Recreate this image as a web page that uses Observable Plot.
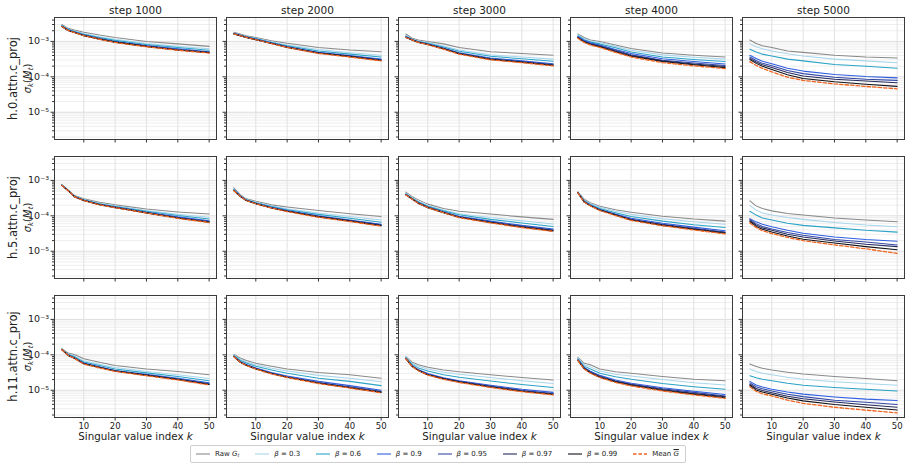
<!DOCTYPE html>
<html><head><meta charset="utf-8">
<script src="https://cdn.jsdelivr.net/npm/d3@7"></script>
<script src="https://cdn.jsdelivr.net/npm/@observablehq/plot@0.6"></script>
<style>
body{margin:0;background:#fff;font-family:"DejaVu Sans",sans-serif;}
#wrap{position:relative;width:912px;height:470px;overflow:hidden;}
#legend{position:absolute;left:190px;top:445px;width:496px;height:18px;border:1px solid #cfcfcf;border-radius:2px;display:flex;align-items:center;justify-content:space-between;padding:0 6px 0 5px;box-sizing:border-box;font-size:7px;color:#222;}
.item{display:flex;align-items:center;gap:5px;white-space:nowrap}
.item sub{font-size:5px;vertical-align:-1px}
</style></head><body><div id="wrap"><div id="chart"></div><div id="legend"></div></div>
<script>
// ---- data ----
const ks = [3, 5, 7, 10, 15, 20, 30, 40, 50];
const steps = [1000, 2000, 3000, 4000, 5000];
const layers = ["h.0.attn.c_proj", "h.5.attn.c_proj", "h.11.attn.c_proj"];
const seriesKeys = ["raw", "b03", "b06", "b09", "b095", "b097", "b099", "mean"];
const seriesLabels = ['Raw <i>G</i><sub><i>t</i></sub>', '<i>β</i> = 0.3', '<i>β</i> = 0.6', '<i>β</i> = 0.9', '<i>β</i> = 0.95', '<i>β</i> = 0.97', '<i>β</i> = 0.99', 'Mean <i style="text-decoration:overline">G</i>'];
const seriesColors = ["#8a8a8a", "#a9d6ec", "#2aa3c6", "#2f5fe0", "#3347a6", "#252c5e", "#111118", "#f0641e"];
const xTicks = [10, 20, 30, 40, 50];
const yMajor = [1e-5, 1e-4, 1e-3];

// each panel: [raw, β0.3, β0.6, β0.9, β0.95, β0.97, β0.99, mean], values at ks
const h0_s1000 = [
 [3.02e-3,2.34e-3,2.09e-3,1.82e-3,1.51e-3,1.29e-3,1.0e-3,8.51e-4,7.24e-4],
 [2.88e-3,2.24e-3,1.95e-3,1.66e-3,1.35e-3,1.15e-3,8.71e-4,7.24e-4,6.17e-4],
 [2.82e-3,2.19e-3,1.91e-3,1.58e-3,1.29e-3,1.07e-3,8.13e-4,6.76e-4,5.62e-4],
 [2.69e-3,2.09e-3,1.82e-3,1.51e-3,1.20e-3,1.0e-3,7.59e-4,6.17e-4,5.13e-4],
 [2.69e-3,2.09e-3,1.82e-3,1.48e-3,1.20e-3,9.77e-4,7.41e-4,5.89e-4,4.90e-4],
 [2.63e-3,2.04e-3,1.82e-3,1.48e-3,1.17e-3,9.55e-4,7.24e-4,5.75e-4,4.90e-4],
 [2.63e-3,2.04e-3,1.78e-3,1.45e-3,1.15e-3,9.55e-4,7.24e-4,5.75e-4,4.79e-4],
 [2.63e-3,2.04e-3,1.78e-3,1.45e-3,1.15e-3,9.33e-4,7.08e-4,5.62e-4,4.68e-4]];
const h0_s2000 = [
 [1.82e-3,1.62e-3,1.45e-3,1.29e-3,1.05e-3,8.91e-4,6.76e-4,5.75e-4,5.13e-4],
 [1.74e-3,1.55e-3,1.38e-3,1.23e-3,9.77e-4,7.94e-4,5.89e-4,4.79e-4,4.07e-4],
 [1.70e-3,1.51e-3,1.35e-3,1.20e-3,9.33e-4,7.59e-4,5.37e-4,4.37e-4,3.63e-4],
 [1.66e-3,1.48e-3,1.32e-3,1.15e-3,9.12e-4,7.08e-4,4.90e-4,3.98e-4,3.16e-4],
 [1.66e-3,1.48e-3,1.32e-3,1.15e-3,8.91e-4,7.08e-4,4.79e-4,3.89e-4,3.02e-4],
 [1.62e-3,1.45e-3,1.29e-3,1.12e-3,8.91e-4,6.92e-4,4.68e-4,3.80e-4,2.95e-4],
 [1.62e-3,1.45e-3,1.29e-3,1.12e-3,8.71e-4,6.76e-4,4.68e-4,3.72e-4,2.88e-4],
 [1.62e-3,1.45e-3,1.29e-3,1.12e-3,8.71e-4,6.76e-4,4.57e-4,3.63e-4,2.82e-4]];
const h0_s3000 = [
 [1.62e-3,1.23e-3,1.10e-3,1.0e-3,8.51e-4,6.76e-4,5.13e-4,4.57e-4,4.07e-4],
 [1.48e-3,1.17e-3,1.02e-3,9.33e-4,7.41e-4,5.75e-4,4.17e-4,3.63e-4,3.16e-4],
 [1.41e-3,1.15e-3,1.0e-3,8.91e-4,6.92e-4,5.25e-4,3.80e-4,3.24e-4,2.75e-4],
 [1.35e-3,1.12e-3,9.55e-4,8.51e-4,6.46e-4,4.79e-4,3.39e-4,2.82e-4,2.34e-4],
 [1.32e-3,1.12e-3,9.55e-4,8.32e-4,6.31e-4,4.57e-4,3.24e-4,2.69e-4,2.24e-4],
 [1.32e-3,1.10e-3,9.55e-4,8.32e-4,6.17e-4,4.57e-4,3.16e-4,2.63e-4,2.14e-4],
 [1.29e-3,1.10e-3,9.33e-4,8.13e-4,6.17e-4,4.47e-4,3.09e-4,2.57e-4,2.09e-4],
 [1.29e-3,1.10e-3,9.33e-4,8.13e-4,6.03e-4,4.37e-4,3.02e-4,2.51e-4,2.04e-4]];
const h0_s4000 = [
 [1.62e-3,1.29e-3,1.10e-3,1.0e-3,7.94e-4,6.31e-4,4.68e-4,4.07e-4,3.63e-4],
 [1.55e-3,1.20e-3,1.02e-3,9.33e-4,7.24e-4,5.62e-4,4.17e-4,3.55e-4,3.16e-4],
 [1.45e-3,1.12e-3,9.55e-4,8.51e-4,6.61e-4,5.01e-4,3.63e-4,3.09e-4,2.69e-4],
 [1.38e-3,1.07e-3,9.12e-4,7.94e-4,5.89e-4,4.57e-4,3.24e-4,2.69e-4,2.29e-4],
 [1.32e-3,1.02e-3,8.71e-4,7.59e-4,5.62e-4,4.17e-4,2.95e-4,2.45e-4,2.09e-4],
 [1.29e-3,1.0e-3,8.51e-4,7.24e-4,5.37e-4,3.98e-4,2.82e-4,2.29e-4,1.95e-4],
 [1.26e-3,9.55e-4,8.13e-4,7.08e-4,5.13e-4,3.80e-4,2.69e-4,2.19e-4,1.82e-4],
 [1.23e-3,9.33e-4,7.94e-4,6.76e-4,4.90e-4,3.63e-4,2.51e-4,2.04e-4,1.70e-4]];
const h0_s5000 = [
 [1.10e-3,8.71e-4,7.59e-4,6.76e-4,5.37e-4,4.90e-4,4.07e-4,3.63e-4,3.39e-4],
 [8.51e-4,7.08e-4,6.17e-4,5.37e-4,4.47e-4,3.89e-4,3.16e-4,2.82e-4,2.51e-4],
 [6.03e-4,5.01e-4,4.37e-4,3.89e-4,3.16e-4,2.82e-4,2.24e-4,2.0e-4,1.74e-4],
 [4.07e-4,3.31e-4,2.75e-4,2.34e-4,1.74e-4,1.45e-4,1.17e-4,1.02e-4,9.33e-5],
 [3.63e-4,2.88e-4,2.40e-4,2.04e-4,1.51e-4,1.23e-4,9.77e-5,8.51e-5,7.94e-5],
 [3.31e-4,2.63e-4,2.19e-4,1.82e-4,1.32e-4,1.05e-4,8.51e-5,7.59e-5,6.76e-5],
 [3.09e-4,2.40e-4,2.0e-4,1.62e-4,1.15e-4,8.91e-5,7.24e-5,6.17e-5,5.37e-5],
 [2.69e-4,2.09e-4,1.74e-4,1.38e-4,9.77e-5,7.94e-5,6.31e-5,5.37e-5,4.57e-5]];
const h5_s1000 = [
 [7.59e-4,5.37e-4,3.72e-4,3.02e-4,2.40e-4,2.04e-4,1.55e-4,1.29e-4,1.12e-4],
 [7.41e-4,5.25e-4,3.63e-4,2.88e-4,2.24e-4,1.91e-4,1.41e-4,1.10e-4,9.12e-5],
 [7.41e-4,5.25e-4,3.55e-4,2.82e-4,2.19e-4,1.82e-4,1.35e-4,1.02e-4,8.13e-5],
 [7.24e-4,5.13e-4,3.55e-4,2.75e-4,2.09e-4,1.78e-4,1.26e-4,9.33e-5,7.24e-5],
 [7.24e-4,5.13e-4,3.47e-4,2.75e-4,2.09e-4,1.74e-4,1.23e-4,8.91e-5,6.92e-5],
 [7.24e-4,5.13e-4,3.47e-4,2.69e-4,2.09e-4,1.74e-4,1.23e-4,8.71e-5,6.76e-5],
 [7.24e-4,5.13e-4,3.47e-4,2.69e-4,2.04e-4,1.70e-4,1.20e-4,8.71e-5,6.61e-5],
 [7.24e-4,5.13e-4,3.47e-4,2.69e-4,2.04e-4,1.70e-4,1.20e-4,8.51e-5,6.46e-5]];
const h5_s2000 = [
 [6.17e-4,3.98e-4,3.02e-4,2.57e-4,2.04e-4,1.78e-4,1.41e-4,1.15e-4,9.55e-5],
 [5.75e-4,3.80e-4,2.88e-4,2.40e-4,1.91e-4,1.58e-4,1.20e-4,9.55e-5,7.59e-5],
 [5.50e-4,3.72e-4,2.82e-4,2.34e-4,1.82e-4,1.48e-4,1.10e-4,8.51e-5,6.61e-5],
 [5.37e-4,3.63e-4,2.75e-4,2.24e-4,1.74e-4,1.41e-4,1.0e-4,7.59e-5,5.75e-5],
 [5.25e-4,3.63e-4,2.75e-4,2.24e-4,1.70e-4,1.38e-4,9.55e-5,7.41e-5,5.62e-5],
 [5.25e-4,3.55e-4,2.69e-4,2.24e-4,1.70e-4,1.35e-4,9.55e-5,7.24e-5,5.37e-5],
 [5.13e-4,3.55e-4,2.69e-4,2.19e-4,1.66e-4,1.35e-4,9.33e-5,7.08e-5,5.25e-5],
 [5.13e-4,3.55e-4,2.69e-4,2.19e-4,1.66e-4,1.32e-4,9.12e-5,6.92e-5,5.13e-5]];
const h5_s3000 = [
 [4.68e-4,3.47e-4,2.82e-4,2.14e-4,1.62e-4,1.35e-4,1.12e-4,9.33e-5,7.94e-5],
 [4.37e-4,3.24e-4,2.57e-4,1.95e-4,1.45e-4,1.15e-4,8.91e-5,7.24e-5,5.89e-5],
 [4.17e-4,3.16e-4,2.45e-4,1.86e-4,1.38e-4,1.07e-4,7.94e-5,6.31e-5,5.01e-5],
 [4.07e-4,3.02e-4,2.34e-4,1.78e-4,1.29e-4,9.77e-5,7.08e-5,5.37e-5,4.27e-5],
 [3.98e-4,3.02e-4,2.29e-4,1.74e-4,1.29e-4,9.33e-5,6.76e-5,5.13e-5,3.98e-5],
 [3.98e-4,3.02e-4,2.29e-4,1.74e-4,1.26e-4,9.12e-5,6.61e-5,4.90e-5,3.89e-5],
 [3.89e-4,2.95e-4,2.24e-4,1.70e-4,1.23e-4,9.12e-5,6.46e-5,4.79e-5,3.72e-5],
 [3.89e-4,2.95e-4,2.24e-4,1.70e-4,1.23e-4,8.91e-5,6.31e-5,4.68e-5,3.63e-5]];
const h5_s4000 = [
 [4.79e-4,2.95e-4,2.34e-4,1.86e-4,1.48e-4,1.26e-4,9.77e-5,8.13e-5,7.08e-5],
 [4.68e-4,2.82e-4,2.24e-4,1.74e-4,1.35e-4,1.10e-4,8.32e-5,6.76e-5,5.75e-5],
 [4.57e-4,2.69e-4,2.09e-4,1.62e-4,1.23e-4,9.55e-5,7.08e-5,5.62e-5,4.68e-5],
 [4.57e-4,2.57e-4,2.0e-4,1.51e-4,1.12e-4,8.51e-5,6.17e-5,4.79e-5,3.80e-5],
 [4.47e-4,2.51e-4,1.95e-4,1.48e-4,1.07e-4,7.94e-5,5.75e-5,4.47e-5,3.47e-5],
 [4.47e-4,2.51e-4,1.95e-4,1.45e-4,1.07e-4,7.76e-5,5.62e-5,4.27e-5,3.39e-5],
 [4.47e-4,2.45e-4,1.91e-4,1.45e-4,1.05e-4,7.59e-5,5.37e-5,4.17e-5,3.24e-5],
 [4.47e-4,2.45e-4,1.91e-4,1.41e-4,1.02e-4,7.41e-5,5.25e-5,3.98e-5,3.09e-5]];
const h5_s5000 = [
 [2.63e-4,1.91e-4,1.62e-4,1.38e-4,1.17e-4,1.05e-4,8.71e-5,7.59e-5,6.76e-5],
 [1.95e-4,1.45e-4,1.20e-4,1.05e-4,8.91e-5,7.94e-5,6.46e-5,5.50e-5,4.90e-5],
 [1.35e-4,1.05e-4,8.71e-5,7.59e-5,6.17e-5,5.37e-5,4.57e-5,3.89e-5,3.47e-5],
 [8.32e-5,6.76e-5,5.75e-5,4.90e-5,3.89e-5,3.24e-5,2.51e-5,2.14e-5,1.91e-5],
 [7.94e-5,6.03e-5,5.01e-5,4.27e-5,3.39e-5,2.82e-5,2.14e-5,1.82e-5,1.51e-5],
 [7.41e-5,5.50e-5,4.57e-5,3.89e-5,3.02e-5,2.51e-5,1.95e-5,1.58e-5,1.35e-5],
 [6.92e-5,5.01e-5,4.17e-5,3.47e-5,2.69e-5,2.19e-5,1.70e-5,1.35e-5,1.10e-5],
 [6.31e-5,4.68e-5,3.80e-5,3.16e-5,2.45e-5,2.0e-5,1.51e-5,1.17e-5,8.71e-6]];
const h11_s1000 = [
 [1.48e-4,1.12e-4,1.02e-4,7.76e-5,6.17e-5,5.01e-5,3.98e-5,3.39e-5,2.75e-5],
 [1.45e-4,1.05e-4,9.33e-5,6.76e-5,5.37e-5,4.37e-5,3.39e-5,2.75e-5,2.14e-5],
 [1.45e-4,1.02e-4,8.91e-5,6.31e-5,5.01e-5,3.98e-5,3.09e-5,2.45e-5,1.86e-5],
 [1.41e-4,9.77e-5,8.32e-5,5.89e-5,4.57e-5,3.63e-5,2.82e-5,2.19e-5,1.62e-5],
 [1.41e-4,9.77e-5,8.13e-5,5.75e-5,4.47e-5,3.55e-5,2.69e-5,2.09e-5,1.55e-5],
 [1.41e-4,9.77e-5,8.13e-5,5.62e-5,4.37e-5,3.47e-5,2.69e-5,2.04e-5,1.48e-5],
 [1.41e-4,9.55e-5,7.94e-5,5.62e-5,4.37e-5,3.47e-5,2.63e-5,2.0e-5,1.45e-5],
 [1.41e-4,9.55e-5,7.94e-5,5.50e-5,4.27e-5,3.39e-5,2.57e-5,1.95e-5,1.41e-5]];
const h11_s2000 = [
 [1.02e-4,8.13e-5,6.92e-5,5.75e-5,4.79e-5,3.98e-5,3.16e-5,2.75e-5,2.19e-5],
 [1.0e-4,7.59e-5,6.31e-5,5.25e-5,4.17e-5,3.47e-5,2.63e-5,2.19e-5,1.74e-5],
 [9.55e-5,7.08e-5,5.89e-5,4.79e-5,3.72e-5,3.02e-5,2.19e-5,1.78e-5,1.35e-5],
 [9.12e-5,6.46e-5,5.37e-5,4.27e-5,3.16e-5,2.51e-5,1.78e-5,1.35e-5,1.0e-5],
 [9.12e-5,6.31e-5,5.13e-5,4.17e-5,3.02e-5,2.40e-5,1.66e-5,1.26e-5,9.33e-6],
 [8.91e-5,6.31e-5,5.13e-5,4.07e-5,2.95e-5,2.34e-5,1.62e-5,1.20e-5,8.91e-6],
 [8.91e-5,6.17e-5,5.01e-5,3.98e-5,2.95e-5,2.34e-5,1.58e-5,1.17e-5,8.71e-6],
 [8.91e-5,6.17e-5,5.01e-5,3.98e-5,2.88e-5,2.29e-5,1.55e-5,1.15e-5,8.51e-6]];
const h11_s3000 = [
 [8.91e-5,6.17e-5,5.25e-5,4.47e-5,3.72e-5,3.31e-5,2.75e-5,2.29e-5,1.95e-5],
 [8.71e-5,5.75e-5,4.79e-5,3.98e-5,3.24e-5,2.82e-5,2.29e-5,1.86e-5,1.55e-5],
 [8.32e-5,5.37e-5,4.27e-5,3.47e-5,2.75e-5,2.34e-5,1.82e-5,1.45e-5,1.20e-5],
 [7.94e-5,4.90e-5,3.80e-5,2.95e-5,2.24e-5,1.86e-5,1.38e-5,1.07e-5,8.71e-6],
 [7.94e-5,4.79e-5,3.72e-5,2.82e-5,2.19e-5,1.78e-5,1.32e-5,1.0e-5,8.13e-6],
 [7.76e-5,4.79e-5,3.63e-5,2.75e-5,2.14e-5,1.74e-5,1.26e-5,9.55e-6,7.76e-6],
 [7.76e-5,4.68e-5,3.63e-5,2.75e-5,2.09e-5,1.70e-5,1.23e-5,9.33e-6,7.59e-6],
 [7.76e-5,4.68e-5,3.55e-5,2.69e-5,2.04e-5,1.66e-5,1.20e-5,9.12e-6,7.41e-6]];
const h11_s4000 = [
 [8.51e-5,5.75e-5,5.25e-5,3.98e-5,3.31e-5,3.02e-5,2.45e-5,2.04e-5,1.86e-5],
 [8.13e-5,5.25e-5,4.57e-5,3.47e-5,2.82e-5,2.51e-5,2.0e-5,1.62e-5,1.41e-5],
 [7.76e-5,4.79e-5,3.98e-5,3.02e-5,2.40e-5,2.04e-5,1.55e-5,1.26e-5,1.07e-5],
 [7.24e-5,4.37e-5,3.47e-5,2.63e-5,1.95e-5,1.58e-5,1.17e-5,9.33e-6,7.59e-6],
 [7.08e-5,4.17e-5,3.31e-5,2.51e-5,1.82e-5,1.48e-5,1.10e-5,8.71e-6,6.92e-6],
 [7.08e-5,4.17e-5,3.16e-5,2.40e-5,1.78e-5,1.45e-5,1.05e-5,8.13e-6,6.61e-6],
 [6.92e-5,4.07e-5,3.09e-5,2.34e-5,1.70e-5,1.38e-5,1.0e-5,7.76e-6,6.17e-6],
 [6.92e-5,3.98e-5,3.02e-5,2.29e-5,1.66e-5,1.32e-5,9.55e-6,7.41e-6,5.89e-6]];
const h11_s5000 = [
 [5.50e-5,4.68e-5,4.17e-5,3.72e-5,3.24e-5,2.88e-5,2.45e-5,2.14e-5,1.86e-5],
 [3.98e-5,3.39e-5,3.02e-5,2.75e-5,2.34e-5,2.04e-5,1.74e-5,1.55e-5,1.38e-5],
 [2.57e-5,2.24e-5,2.04e-5,1.86e-5,1.58e-5,1.38e-5,1.20e-5,1.07e-5,9.55e-6],
 [1.78e-5,1.41e-5,1.23e-5,1.07e-5,8.91e-6,7.76e-6,6.46e-6,5.62e-6,5.13e-6],
 [1.62e-5,1.26e-5,1.10e-5,9.55e-6,7.76e-6,6.61e-6,5.25e-6,4.57e-6,3.98e-6],
 [1.48e-5,1.12e-5,9.77e-6,8.51e-6,6.76e-6,5.75e-6,4.68e-6,3.89e-6,3.31e-6],
 [1.38e-5,1.02e-5,8.91e-6,7.76e-6,6.03e-6,5.01e-6,3.98e-6,3.31e-6,2.75e-6],
 [1.26e-5,9.33e-6,7.94e-6,6.92e-6,5.25e-6,4.27e-6,3.31e-6,2.75e-6,2.29e-6]];

// ---- build table ----
const panels = [
  [layers[0], 1000, h0_s1000], [layers[0], 2000, h0_s2000], [layers[0], 3000, h0_s3000], [layers[0], 4000, h0_s4000], [layers[0], 5000, h0_s5000],
  [layers[1], 1000, h5_s1000], [layers[1], 2000, h5_s2000], [layers[1], 3000, h5_s3000], [layers[1], 4000, h5_s4000], [layers[1], 5000, h5_s5000],
  [layers[2], 1000, h11_s1000], [layers[2], 2000, h11_s2000], [layers[2], 3000, h11_s3000], [layers[2], 4000, h11_s4000], [layers[2], 5000, h11_s5000]
];
const rows = [];
for (const [layer, step, arr] of panels) {
  arr.forEach((vals, si) => vals.forEach((v, i) => rows.push({layer, step, series: seriesKeys[si], k: ks[i], v})));
}
const yMinor = [];
for (const e of [1e-6, 1e-5, 1e-4, 1e-3]) for (let m = 2; m <= 9; m++) { const t = m * e; if (t >= 1.7e-6 && t <= 4.73e-3) yMinor.push(t); }

const sup = {"-": "⁻", "0": "⁰", "1": "¹", "2": "²", "3": "³", "4": "⁴", "5": "⁵", "6": "⁶", "7": "⁷", "8": "⁸", "9": "⁹"};
const fmt = d => "10" + String(Math.round(Math.log10(d))).split("").map(c => sup[c]).join("");

const chart = Plot.plot({
  width: 912, height: 446,
  marginLeft: 53, marginRight: 7, marginTop: 17, marginBottom: 28.4,
  style: {fontFamily: "DejaVu Sans", fontSize: "8px", color: "#222", background: "#fff", overflow: "visible"},
  fx: {domain: steps, paddingInner: 0.061, paddingOuter: 0, axis: null},
  fy: {domain: layers, paddingInner: 0.122, paddingOuter: 0, axis: null},
  x: {domain: [0.65, 52.35], axis: null},
  y: {type: "log", domain: [1.70e-6, 4.73e-3], axis: null},
  marks: [
    Plot.gridY(yMinor, {stroke: "#eeeeee", strokeOpacity: 1, facetAnchor: null}),
    Plot.gridY(yMajor, {stroke: "#dedede", strokeOpacity: 1, facetAnchor: null}),
    Plot.gridX(xTicks, {stroke: "#e2e2e2", strokeOpacity: 1, facetAnchor: null}),
    ...seriesKeys.map((s, i) => Plot.line(rows.filter(r => r.series === s), {
      x: "k", y: "v", fx: "step", fy: "layer",
      stroke: seriesColors[i], strokeWidth: s === "mean" ? 1.3 : 1.05,
      strokeDasharray: s === "mean" ? "3.5,2" : null
    })),
    Plot.frame({stroke: "#3a3a3a", strokeWidth: 1}),
    Plot.axisX(xTicks, {tickSize: 3.5, fill: "none", stroke: "#333", label: null, facetAnchor: null}),
    Plot.axisX(xTicks, {tickSize: 3.5, tickPadding: 1.5, stroke: "none", label: null, fontSize: 8.5, tickFormat: d => String(d)}),
    Plot.axisY(yMinor, {tickSize: 2, fill: "none", stroke: "#333", label: null, facetAnchor: null}),
    Plot.axisY(yMajor, {tickSize: 3.5, fill: "none", stroke: "#333", label: null, facetAnchor: null}),
    Plot.axisY(yMajor, {tickSize: 3.5, tickPadding: 2, stroke: "none", label: null, tickFormat: fmt, fontSize: 9.5}),
    Plot.text(steps.map(s => ({step: s, layer: layers[0]})), {fx: "step", fy: "layer", frameAnchor: "top", lineAnchor: "middle", textAnchor: "middle", dy: -7, text: d => `step ${d.step}`, fontSize: 10.5}),
    Plot.text(steps.map(s => ({step: s, layer: layers[2]})), {fx: "step", fy: "layer", frameAnchor: "bottom", lineAnchor: "middle", textAnchor: "middle", dy: 19.5, text: () => "Singular value index k", fontSize: 10.3}),
    Plot.text(layers.map(l => ({step: steps[0], layer: l})), {fx: "step", fy: "layer", frameAnchor: "left", lineAnchor: "middle", textAnchor: "middle", dx: -41, rotate: -90, text: "layer", fontSize: 11.5}),
    Plot.text(layers.map(l => ({step: steps[0], layer: l})), {fx: "step", fy: "layer", frameAnchor: "left", lineAnchor: "middle", textAnchor: "middle", dx: -27, rotate: -90, text: () => "σk(Mt)", fontSize: 10})
  ]
});
document.getElementById("chart").appendChild(chart);

// math-style text touches
d3.select(chart).selectAll("text").each(function () {
  const t = this.textContent;
  if (t === "Singular value index k") {
    this.innerHTML = 'Singular value index <tspan font-style="italic">k</tspan>';
  } else if (t === "σk(Mt)") {
    this.innerHTML = '<tspan font-style="italic">σ</tspan><tspan font-style="italic" font-size="7" dy="2.5">k</tspan><tspan dy="-2.5">(</tspan><tspan font-style="italic">M</tspan><tspan font-style="italic" font-size="7" dy="2.5">t</tspan><tspan dy="-2.5">)</tspan>';
  }
});

// legend
const legend = document.getElementById("legend");
seriesKeys.forEach((s, i) => {
  const item = document.createElement("div");
  item.className = "item";
  const dash = s === "mean" ? ' stroke-dasharray="3.5,2"' : "";
  item.innerHTML = `<svg width="14" height="4"><line x1="0" y1="2" x2="14" y2="2" stroke="${seriesColors[i]}" stroke-width="${s === "mean" ? 1.3 : 1.1}"${dash}/></svg><span>${seriesLabels[i]}</span>`;
  legend.appendChild(item);
});
</script>
</body></html>
